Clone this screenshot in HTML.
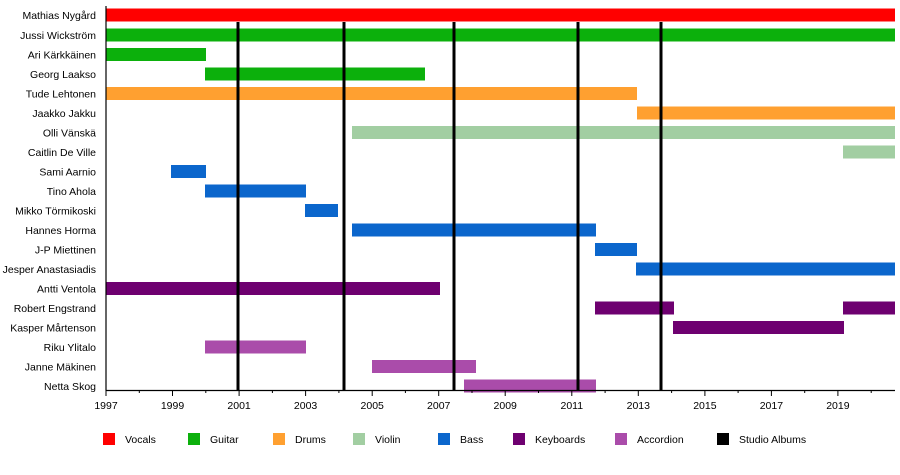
<!DOCTYPE html>
<html><head><meta charset="utf-8"><style>body{margin:0;background:#fff}</style></head><body>
<svg width="900" height="470" xmlns="http://www.w3.org/2000/svg" font-family="Liberation Sans, sans-serif" font-size="10.5">
<g id="bars"></g>
<script>
var Y0=15,DY=19.6,H=13;
function r(row,x1,x2,c){document.write('');}
</script>
<!-- rows -->
<g>
<rect x="106" y="8.5" width="789" height="13" fill="#ff0000"/>
<rect x="106" y="28.5" width="789" height="13" fill="#0cb00c"/>
<rect x="106" y="48" width="100" height="13" fill="#0cb00c"/>
<rect x="205" y="67.5" width="220" height="13" fill="#0cb00c"/>
<rect x="106" y="87" width="531" height="13" fill="#ffa030"/>
<rect x="637" y="106.5" width="258" height="13" fill="#ffa030"/>
<rect x="352" y="126" width="543" height="13" fill="#a2cea2"/>
<rect x="843" y="145.5" width="52" height="13" fill="#a2cea2"/>
<rect x="171" y="165" width="35" height="13" fill="#0b66cc"/>
<rect x="205" y="184.5" width="101" height="13" fill="#0b66cc"/>
<rect x="305" y="204" width="33" height="13" fill="#0b66cc"/>
<rect x="352" y="223.5" width="244" height="13" fill="#0b66cc"/>
<rect x="595" y="243" width="42" height="13" fill="#0b66cc"/>
<rect x="636" y="262.5" width="259" height="13" fill="#0b66cc"/>
<rect x="106" y="282" width="334" height="13" fill="#6e0070"/>
<rect x="595" y="301.5" width="79" height="13" fill="#6e0070"/>
<rect x="843" y="301.5" width="52" height="13" fill="#6e0070"/>
<rect x="673" y="321" width="171" height="13" fill="#6e0070"/>
<rect x="205" y="340.5" width="101" height="13" fill="#aa4caa"/>
<rect x="372" y="360" width="104" height="13" fill="#aa4caa"/>
<rect x="464" y="379.5" width="132" height="13" fill="#aa4caa"/>
</g>
<g fill="#000">
<rect x="236.5" y="22" width="3" height="368"/>
<rect x="342.5" y="22" width="3" height="368"/>
<rect x="452.5" y="22" width="3" height="368"/>
<rect x="576.5" y="22" width="3" height="368"/>
<rect x="659.5" y="22" width="3" height="368"/>
</g>
<line x1="106" y1="6" x2="106" y2="390.5" stroke="#000" stroke-width="1.2"/>
<line x1="106" y1="390.5" x2="895" y2="390.5" stroke="#000" stroke-width="1.2"/>
<g stroke="#000" stroke-width="1">
<line x1="106" y1="390" x2="106" y2="396"/><line x1="139.3" y1="390" x2="139.3" y2="393"/>
<line x1="172.5" y1="390" x2="172.5" y2="396"/><line x1="205.8" y1="390" x2="205.8" y2="393"/>
<line x1="239.1" y1="390" x2="239.1" y2="396"/><line x1="272.4" y1="390" x2="272.4" y2="393"/>
<line x1="305.6" y1="390" x2="305.6" y2="396"/><line x1="338.9" y1="390" x2="338.9" y2="393"/>
<line x1="372.2" y1="390" x2="372.2" y2="396"/><line x1="405.4" y1="390" x2="405.4" y2="393"/>
<line x1="438.7" y1="390" x2="438.7" y2="396"/><line x1="472" y1="390" x2="472" y2="393"/>
<line x1="505.2" y1="390" x2="505.2" y2="396"/><line x1="538.5" y1="390" x2="538.5" y2="393"/>
<line x1="571.8" y1="390" x2="571.8" y2="396"/><line x1="605.1" y1="390" x2="605.1" y2="393"/>
<line x1="638.3" y1="390" x2="638.3" y2="396"/><line x1="671.6" y1="390" x2="671.6" y2="393"/>
<line x1="704.9" y1="390" x2="704.9" y2="396"/><line x1="738.1" y1="390" x2="738.1" y2="393"/>
<line x1="771.4" y1="390" x2="771.4" y2="396"/><line x1="804.7" y1="390" x2="804.7" y2="393"/>
<line x1="837.9" y1="390" x2="837.9" y2="396"/><line x1="871.2" y1="390" x2="871.2" y2="393"/>
</g>
<g text-anchor="middle" fill="#000">
<text x="106" y="409">1997</text><text x="172.5" y="409">1999</text><text x="239.1" y="409">2001</text>
<text x="305.6" y="409">2003</text><text x="372.2" y="409">2005</text><text x="438.7" y="409">2007</text>
<text x="505.2" y="409">2009</text><text x="571.8" y="409">2011</text><text x="638.3" y="409">2013</text>
<text x="704.9" y="409">2015</text><text x="771.4" y="409">2017</text><text x="837.9" y="409">2019</text>
</g>
<g text-anchor="end" fill="#000">
<text x="96" y="19">Mathias Nygård</text>
<text x="96" y="39">Jussi Wickström</text>
<text x="96" y="58.5">Ari Kärkkäinen</text>
<text x="96" y="78">Georg Laakso</text>
<text x="96" y="97.5">Tude Lehtonen</text>
<text x="96" y="117">Jaakko Jakku</text>
<text x="96" y="136.5">Olli Vänskä</text>
<text x="96" y="156">Caitlin De Ville</text>
<text x="96" y="175.5">Sami Aarnio</text>
<text x="96" y="195">Tino Ahola</text>
<text x="96" y="214.5">Mikko Törmikoski</text>
<text x="96" y="234">Hannes Horma</text>
<text x="96" y="253.5">J-P Miettinen</text>
<text x="96" y="273">Jesper Anastasiadis</text>
<text x="96" y="292.5">Antti Ventola</text>
<text x="96" y="312">Robert Engstrand</text>
<text x="96" y="331.5">Kasper Mårtenson</text>
<text x="96" y="351">Riku Ylitalo</text>
<text x="96" y="370.5">Janne Mäkinen</text>
<text x="96" y="390">Netta Skog</text>
</g>
<g>
<rect x="103" y="433" width="12" height="12" fill="#ff0000"/><text x="125" y="443">Vocals</text>
<rect x="188" y="433" width="12" height="12" fill="#0cb00c"/><text x="210" y="443">Guitar</text>
<rect x="273" y="433" width="12" height="12" fill="#ffa030"/><text x="295" y="443">Drums</text>
<rect x="353" y="433" width="12" height="12" fill="#a2cea2"/><text x="375" y="443">Violin</text>
<rect x="438" y="433" width="12" height="12" fill="#0b66cc"/><text x="460" y="443">Bass</text>
<rect x="513" y="433" width="12" height="12" fill="#6e0070"/><text x="535" y="443">Keyboards</text>
<rect x="615" y="433" width="12" height="12" fill="#aa4caa"/><text x="637" y="443">Accordion</text>
<rect x="717" y="433" width="12" height="12" fill="#000"/><text x="739" y="443">Studio Albums</text>
</g>
</svg>
</body></html>
